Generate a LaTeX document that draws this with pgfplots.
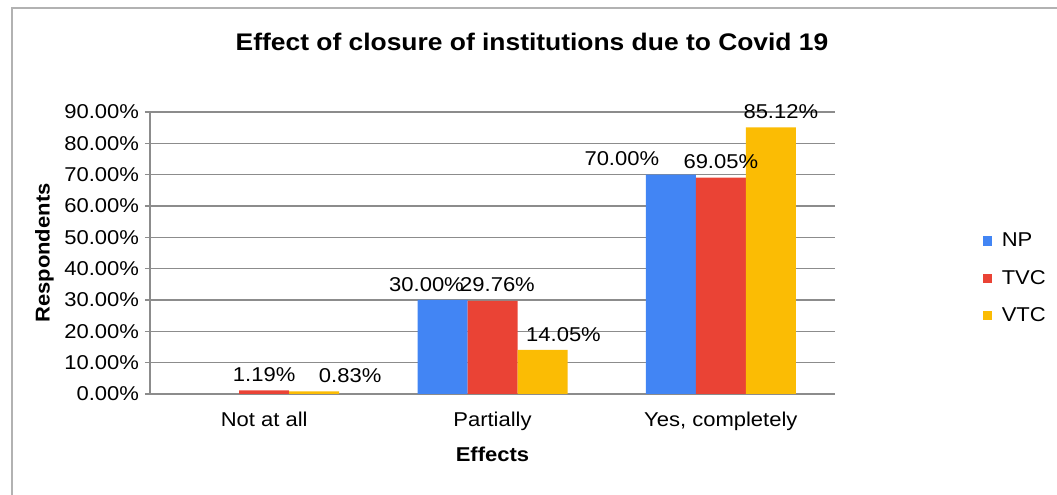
\documentclass[border=0pt]{standalone}
\usepackage{pgfplots}
\pgfplotsset{compat=1.18}
\usepackage{pgfplotstable}
\usepackage{fontspec}
\setmainfont{Liberation Sans}[FakeStretch=1.1]
\definecolor{npblue}{HTML}{4285F4}
\definecolor{tvcred}{HTML}{EA4335}
\definecolor{vtcyel}{HTML}{FBBC04}
\definecolor{gridg}{HTML}{8C8C8C}

\pgfplotstableread{
x y dx
1 30.00 -16
2 70.00 -49
}\np
\pgfplotstableread{
x y dx
0 1.19 0
1 29.76 5
2 69.05 0
}\tvc
\pgfplotstableread{
x y dx
0 0.83 36
1 14.05 21
2 85.12 10
}\vtc

\begin{document}
\begin{tikzpicture}
\path[use as bounding box] (0pt,0pt) rectangle (792.75pt,371.25pt);
\draw[gray!60, line width=1.2pt] (9pt,-20pt) -- (9pt,365.25pt) -- (810pt,365.25pt);
\node[font=\fontsize{18}{21}\selectfont\bfseries] at (399pt,339.75pt) {Effect of closure of institutions due to Covid 19};
\begin{axis}[
  at={(112.5pt,75.75pt)}, anchor=south west,
  scale only axis, width=513.75pt, height=211.5pt,
  ybar=0pt, bar width=37.5pt,
  xmin=-0.5, xmax=2.5, ymin=0, ymax=90,
  xtick={0,1,2}, xticklabels={Not at all,Partially,{Yes, completely}},
  ytick={0,10,...,90},
  yticklabel={\pgfmathprintnumber[fixed,fixed zerofill,precision=2]{\tick}\%},
  /pgf/number format/assume math mode=true,
  axis lines*=left,
  axis line style={gridg, line width=0.9pt},
  ymajorgrids, grid style={gridg, line width=0.9pt},
  tick align=outside,
  major tick length=3.75pt,
  x tick style={draw=none},
  y tick style={gridg, line width=0.9pt},
  tick label style={font=\fontsize{15}{18}\selectfont},
  xticklabel style={yshift=-6pt},
  yticklabel style={xshift=-1pt},
  xlabel={\textbf{Effects}}, ylabel={\textbf{Respondents}},
  label style={font=\fontsize{15}{18}\selectfont},
  xlabel style={yshift=-6pt},
  ylabel style={yshift=1pt},
  nodes near coords={\pgfmathprintnumber[fixed,fixed zerofill,precision=2]{\pgfplotspointmeta}\%},
  visualization depends on={\thisrow{dx} \as \dx},
  every node near coord/.append style={font=\fontsize{15}{18}\selectfont, xshift=0.75*\dx pt, yshift=3pt},
  legend style={at={(1.21,0.41)}, anchor=west, draw=none, fill=none,
    font=\fontsize{15}{18}\selectfont, row sep=12pt},
  legend cell align=left,
  legend image code/.code={\fill[#1] (0pt,-3.5pt) rectangle (7pt,3.5pt); \path (12pt,0pt);},
]
\addplot[fill=npblue, draw=none, bar shift=-37.5pt] table[x=x,y=y] {\np};
\addplot[fill=tvcred, draw=none, bar shift=0pt] table[x=x,y=y] {\tvc};
\addplot[fill=vtcyel, draw=none, bar shift=37.5pt] table[x=x,y=y] {\vtc};
\legend{NP,TVC,VTC}
\end{axis}
\end{tikzpicture}
\end{document}
